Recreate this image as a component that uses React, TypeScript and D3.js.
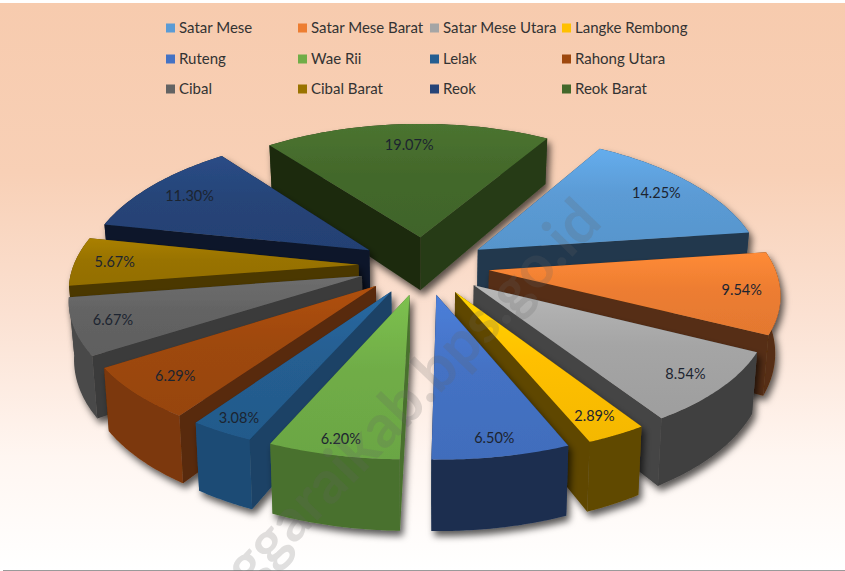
import React from "react";
import * as d3 from "d3";

const categories = ["Satar Mese","Satar Mese Barat","Satar Mese Utara","Langke Rembong","Ruteng","Wae Rii","Lelak","Rahong Utara","Cibal","Cibal Barat","Reok","Reok Barat"];
const values = [14.25,9.54,8.54,2.89,6.5,6.2,3.08,6.29,6.67,5.67,11.3,19.07];
const colors = ["#5b9bd5","#ed7d31","#a5a5a5","#ffc000","#4472c4","#70ad47","#255e91","#9e480e","#636363","#997300","#264478","#43682b"];
const startShade = [2.8,2.8,2.5,2.8,2.8,1.2,1.0,1.6,1.5,2.0,2.8,2.6];
const endShade = [2.8,2.8,2.5,2.8,2.8,1.2,1.0,1.6,1.5,2.0,2.8,1.6];
const outerShade = [2.6,2.8,2.6,2.7,2.5,1.2,0.6,0.7,0.8,2.0,2.5,1.9];
const labelRadii = [0.83,0.87,0.87,0.88,0.9,0.91,0.91,0.85,0.87,0.86,0.82,0.8];

const W = 845, H = 571;
const cx = 424, cy = 265.5, f = 285, g = 135, ax = 0.15, ay = 0.13, depth = 55, explodeU = 0.23, explodeV = 0.215;
const startDeg = 31;

function project(u: number, v: number) {
  return [cx + (f * u) / (1 - ax * v), cy + (g * v) / (1 - ay * v)] as [number, number];
}
function drop(p: [number, number], v: number) {
  return [cx + (p[0] - cx) * 0.985, p[1] + depth / (1 - 0.19 * v)] as [number, number];
}

const pieGen = d3.pie<number>().sort(null).startAngle((startDeg * Math.PI) / 180).endAngle((startDeg * Math.PI) / 180 + 2 * Math.PI);
const line = d3.line<[number, number]>();

const slices = pieGen(values).map((a, i) => {
  const mid = (a.startAngle + a.endAngle) / 2;
  const ou = explodeU * Math.sin(mid), ov = -explodeV * Math.cos(mid);
  const angs = d3.range(0, 41).map((k) => a.startAngle + ((a.endAngle - a.startAngle) * k) / 40);
  const uv = angs.map((t) => [ou + Math.sin(t), ov - Math.cos(t)] as [number, number]);
  const rim = uv.map(([u, v]) => project(u, v));
  const rimLow = uv.map(([u, v], k) => drop(rim[k], v));
  const apex = project(ou, ov);
  const apexLow = drop(apex, ov);
  const top = line([apex, ...rim])! + "Z";
  const n = rim.length - 1;
  const wallA = { d: line([apex, rim[0], rimLow[0], apexLow])! + "Z", y: (apex[1] + rim[0][1]) / 2, k: startShade[i] };
  const wallB = { d: line([apex, rim[n], rimLow[n], apexLow])! + "Z", y: (apex[1] + rim[n][1]) / 2, k: endShade[i] };
  const wallC = { d: line([...rim, ...rimLow.slice().reverse()])! + "Z", y: d3.mean(rim, (p) => p[1])!, k: outerShade[i] };
  const r = labelRadii[i];
  const lab = project(ou + r * Math.sin(mid), ov - r * Math.cos(mid));
  return { i, mid, top, walls: [wallA, wallB, wallC].sort((p, q) => p.y - q.y), lab, order: ov };
});
const drawOrder = slices.slice().sort((p, q) => p.order - q.order);

const legendX = [166, 298, 430, 562];
const legendY = [28, 59, 89];

export default function App() {
  return (
    <svg width={W} height={H} style={{ position: "absolute", left: 0, top: 0 }} fontFamily="Lato, Carlito, sans-serif">
      <defs>
        <linearGradient id="bg" x1="0" y1="0" x2="0" y2="1">
          <stop offset="0" stopColor="#f7cbae" />
          <stop offset="0.3" stopColor="#f8d0b6" />
          <stop offset="0.55" stopColor="#fbe1d2" />
          <stop offset="0.8" stopColor="#fff6f1" />
          <stop offset="1" stopColor="#ffffff" />
        </linearGradient>
        {colors.map((c, i) => (
          <linearGradient key={i} id={`top${i}`} x1="0" y1="0" x2="0" y2="1">
            <stop offset="0" stopColor={d3.rgb(c).brighter(0.3).formatHex()} />
            <stop offset="0.45" stopColor={c} />
            <stop offset="1" stopColor={d3.rgb(c).darker(0.12).formatHex()} />
          </linearGradient>
        ))}
        <filter id="shadow" x="-20%" y="-20%" width="140%" height="140%">
          <feDropShadow dx="3" dy="5" stdDeviation="3.5" floodColor="#000" floodOpacity="0.65" />
        </filter>
      </defs>
      <rect x={0} y={3} width={W} height={567} fill="url(#bg)" />
      <rect x={3} y={570} width={W - 3} height={1} fill="#9a9a9a" />

      {legendY.map((y, r) =>
        legendX.map((x, c) => {
          const i = r * 4 + c;
          return (
            <g key={i}>
              <rect x={x} y={y - 4.5} width={9} height={9} fill={colors[i]} />
              <text x={x + 13} y={y + 5} fontSize={15} fill="#333">{categories[i]}</text>
            </g>
          );
        })
      )}

      {drawOrder.map((s) => (
        <g key={s.i} filter="url(#shadow)">
          {s.walls.map((w, k) => (
            <path key={k} d={w.d} fill={d3.rgb(colors[s.i]).darker(w.k).formatHex()} />
          ))}
          <path d={s.top} fill={`url(#top${s.i})`} />
        </g>
      ))}

      {slices.map((s) => (
        <text key={s.i} x={s.lab[0]} y={s.lab[1] + 5} textAnchor="middle" fontSize={14.5} fill="#1c2430">
          {values[s.i].toFixed(2)}%
        </text>
      ))}

      <text
        transform="translate(604,224) rotate(-46)"
        textAnchor="end"
        fontSize={60}
        fontWeight={700}
        fill="#666"
        fillOpacity={0.2}
      >
        ggaraikab.bps.go.id
      </text>
    </svg>
  );
}
